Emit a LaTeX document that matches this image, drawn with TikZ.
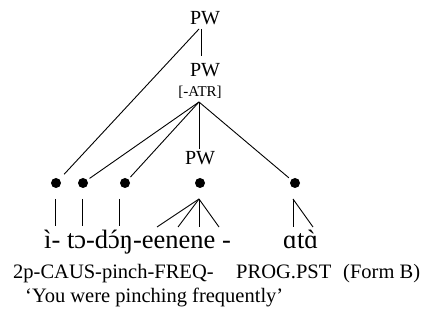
\documentclass[tikz,border=0pt]{standalone}
\usepackage{fontspec}
\setmainfont{Liberation Serif}
\newcommand{\acuteon}[1]{\accent"00B4 #1}
\newcommand{\graveon}[1]{\accent"02CB #1}
\begin{document}
\begin{tikzpicture}[x=1pt,y=-1pt,
  lbl/.style={inner sep=0pt, anchor=base},
  lblw/.style={inner sep=0pt, anchor=base west},
  big/.style={font=\fontsize{20}{24}\selectfont},
  small/.style={font=\fontsize{15}{18}\selectfont},
  ipa/.style={font=\fontsize{26.5}{30}\selectfont},
  gloss/.style={font=\fontsize{20.5}{24}\selectfont},
  dotnode/.style={circle, fill, inner sep=0pt, minimum size=10pt, outer sep=3pt},
  br/.style={line width=0.9pt}]
\useasboundingbox (0,0) rectangle (423,320);
% labels
\node[lbl,big] (pw1) at (205,25) {PW};
\node[lbl,big] (pw2) at (205,77) {PW};
\node[lbl,small] (atr) at (200,97) {[-ATR]};
\node[lbl,big] (pw3) at (200,165) {PW};
\coordinate (pw1b) at (201,29);
\coordinate (pw1c) at (199,29);
\coordinate (pw2t) at (201,56);
\coordinate (apex) at (199,102);
\coordinate (pw3t) at (199,149);
% dots
\node[dotnode] (d1) at (56,183) {};
\node[dotnode] (d2) at (83,183) {};
\node[dotnode] (d3) at (125,183) {};
\node[dotnode] (d4) at (200,183) {};
\node[dotnode] (d5) at (295,183) {};
% upper connectors
\draw[br] (pw1b) -- (pw2t);
\draw[br, shorten >=4pt] (pw1c) -- (d1);
\draw[br] (apex) -- (d2);
\draw[br] (apex) -- (d3);
\draw[br] (apex) -- (pw3t);
\draw[br] (apex) -- (d5);
% lower ticks
\coordinate (t1a) at (55,199); \coordinate (t1b) at (55,226);
\coordinate (t2a) at (82,199); \coordinate (t2b) at (82,226);
\coordinate (t3a) at (119,199); \coordinate (t3b) at (119,226);
\coordinate (f0) at (199,199);
\coordinate (fa) at (157,227); \coordinate (fb) at (178,227);
\coordinate (fc) at (199,227); \coordinate (fd) at (219,227);
\coordinate (g0) at (293,199);
\coordinate (g1) at (293,227); \coordinate (g2) at (313,227);
\draw[br] (t1a) -- (t1b);
\draw[br] (t2a) -- (t2b);
\draw[br] (t3a) -- (t3b);
\draw[br] (f0) -- (fa);
\draw[br] (f0) -- (fb);
\draw[br] (f0) -- (fc);
\draw[br] (f0) -- (fd);
\draw[br] (g0) -- (g1);
\draw[br] (g0) -- (g2);
% text rows
\node[lblw,ipa] (w1) at (44,249) {ì- tɔ-d\acuteon{ɔ}ŋ-eenene -};
\node[lblw,ipa] (w2) at (283,249) {ɑt\graveon{ɑ}};
\node[lblw,gloss] (g2a) at (13,279) {2p-CAUS-pinch-FREQ-};
\node[lblw,gloss] (g2b) at (236,279) {PROG.PST};
\node[lblw,gloss] (g2c) at (343,279) {(Form B)};
\node[lblw,gloss] (tr) at (25,302) {‘You were pinching frequently’};
\end{tikzpicture}
\end{document}
